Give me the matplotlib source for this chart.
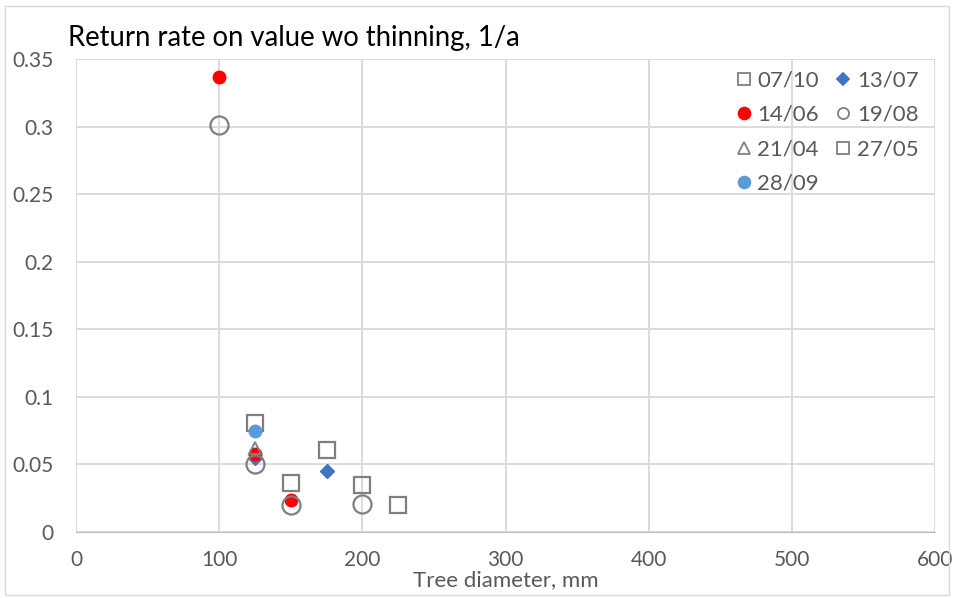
import matplotlib.pyplot as plt
from matplotlib.lines import Line2D

plt.rcParams['font.family'] = ['Lato', 'DejaVu Sans']

# series data (x = tree diameter in mm, y = return rate 1/a)
x_0710 = [125, 150]
y_0710 = [0.081, 0.036]
x_1307 = [125, 175]
y_1307 = [0.055, 0.045]
x_1406 = [100, 125, 150]
y_1406 = [0.337, 0.058, 0.024]
x_1908 = [100, 125, 150, 200]
y_1908 = [0.301, 0.050, 0.020, 0.021]
x_2104 = [125]
y_2104 = [0.062]
x_2705 = [175, 200, 225]
y_2705 = [0.061, 0.035, 0.020]
x_2809 = [125]
y_2809 = [0.075]

gray = '#7f7f7f'
fig = plt.figure(figsize=(9.54, 5.98), dpi=100)
ax = fig.add_axes([76 / 954, 1 - 532 / 598, (935 - 76) / 954, (532 - 59) / 598])

ax.plot(x_0710, y_0710, 's', ms=11.5, mfc='none', mec=gray, mew=1.6)
ax.plot(x_1307, y_1307, 'D', ms=7, color='#4472c4')
ax.plot(x_1406, y_1406, 'o', ms=9, color='#ff0000')
ax.plot(x_1908, y_1908, 'o', ms=13, mfc='none', mec=gray, mew=1.6)
ax.plot(x_2104, y_2104, '^', ms=9, mfc='none', mec=gray, mew=1.4)
ax.plot(x_2705, y_2705, 's', ms=11.5, mfc='none', mec=gray, mew=1.6)
ax.plot(x_2809, y_2809, 'o', ms=9, color='#5b9bd5')

ax.set_xlim(0, 600)
ax.set_ylim(0, 0.35)
ax.set_xticks(range(0, 601, 100))
ax.set_yticks([0, 0.05, 0.1, 0.15, 0.2, 0.25, 0.3, 0.35])
ax.set_yticklabels(['0', '0.05', '0.1', '0.15', '0.2', '0.25', '0.3', '0.35'])
ax.grid(True, color='#d9d9d9', lw=1.3)
ax.set_axisbelow(True)
for s in ['top', 'right', 'left']:
    ax.spines[s].set_visible(False)
ax.spines['bottom'].set_color('#bfbfbf')
ax.tick_params(length=0, labelsize=15, labelcolor='#595959')
ax.tick_params(axis='x', pad=13)
ax.tick_params(axis='y', pad=16)
ax.set_xlabel('Tree diameter, mm', fontsize=16, color='#595959', labelpad=0)

fig.text(68 / 954, 1 - 38 / 598, 'Return rate on value wo thinning, 1/a', fontsize=19.8,
         color='#000000', va='center', ha='left')

# legend handles, laid out column-wise so the rows read like the reference
def h(marker, ms, fc, ec):
    return Line2D([], [], ls='none', marker=marker, ms=ms, mfc=fc, mec=ec, mew=1.3)

handles = [h('s', 8.5, 'none', gray), h('o', 8.5, '#ff0000', '#ff0000'),
           h('^', 8.5, 'none', gray), h('o', 8.5, '#5b9bd5', '#5b9bd5'),
           h('D', 6.5, '#4472c4', '#4472c4'), h('o', 8, 'none', gray),
           h('s', 8.5, 'none', gray)]
labels = ['07/10', '14/06', '21/04', '28/09', '13/07', '19/08', '27/05']
leg = ax.legend(handles, labels, ncol=2, loc='upper right', bbox_to_anchor=(1.004, 1.018),
                frameon=False, fontsize=16, handletextpad=0.1, columnspacing=0.6,
                labelspacing=0.65, handlelength=1.0)
for t in leg.get_texts():
    t.set_color('#595959')

fig.patches.append(plt.Rectangle((0.005, 0.005), 0.99, 0.985, transform=fig.transFigure,
                                 fill=False, ec='#d9d9d9', lw=1))

fig.savefig('out.png', dpi=100)
